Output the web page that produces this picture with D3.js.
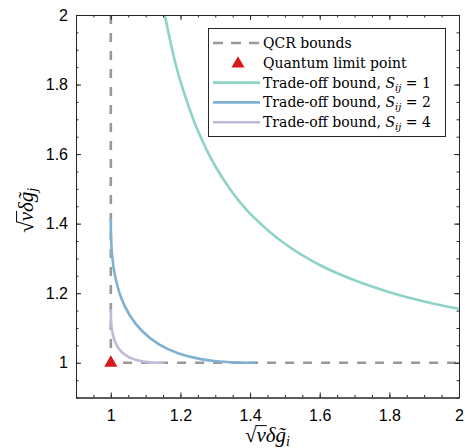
<!DOCTYPE html>
<html>
<head>
<meta charset="utf-8">
<script src="https://cdn.jsdelivr.net/npm/d3@7"></script>
<style>
  body { margin: 0; background: #fff; }
  svg { display: block; }
  .tick text { font-family: "Liberation Sans", Arial, sans-serif; font-size: 16px; fill: #000; }
  .math { font-family: "Liberation Serif", "DejaVu Serif", serif; }
  .legend-text { font-family: "DejaVu Serif", "Liberation Serif", serif; }
</style>
</head>
<body>
<svg id="chart" width="465" height="448"></svg>
<script>
// QCR bounds (dashed)
var qcrX = [1, 1, 2];
var qcrY = [2, 1, 1];

// quantum limit point
var limitX = 1, limitY = 1;

// trade-off bound S_ij = 1
var xS1 = [1.155, 1.18, 1.2, 1.25, 1.3, 1.35, 1.4, 1.5, 1.6, 1.7, 1.8, 1.9, 2.0];
var yS1 = [2.0, 1.884, 1.809, 1.667, 1.565, 1.489, 1.429, 1.342, 1.281, 1.237, 1.203, 1.176, 1.155];

// trade-off bound S_ij = 2
var xS2 = [1.0, 1.0001, 1.0004, 1.002, 1.0052, 1.0104, 1.0273, 1.0538, 1.0904, 1.1371, 1.1934, 1.2589, 1.2948, 1.3327, 1.3726, 1.3932, 1.4142];
var yS2 = [1.4142, 1.3932, 1.3726, 1.3327, 1.2948, 1.2589, 1.1934, 1.1371, 1.0904, 1.0538, 1.0273, 1.0104, 1.0052, 1.002, 1.0004, 1.0001, 1.0];

// trade-off bound S_ij = 4
var xS4 = [1.0, 1.0001, 1.0007, 1.0017, 1.0035, 1.0092, 1.0183, 1.031, 1.0477, 1.0684, 1.0931, 1.107, 1.1219, 1.1379, 1.1547];
var yS4 = [1.1547, 1.1379, 1.1219, 1.107, 1.0931, 1.0684, 1.0477, 1.031, 1.0183, 1.0092, 1.0035, 1.0017, 1.0007, 1.0001, 1.0];

var majorTicks = [1, 1.2, 1.4, 1.6, 1.8, 2];
var tickLabels = ['1', '1.2', '1.4', '1.6', '1.8', '2'];
var minorTicks = d3.range(0, 23).map(function (i) { return +(0.9 + i * 0.05).toFixed(2); });

var colors = { qcr: '#999999', s1: '#8dd3c7', s2: '#80b1d3', s4: '#bebada', point: '#d7191c' };

var dims = { left: 76, right: 459, top: 15, bottom: 397.5 };

var svg = d3.select('#chart');

var x = d3.scaleLinear().domain([0.9, 2]).range([dims.left, dims.right]);
var y = d3.scaleLinear().domain([0.9, 2]).range([dims.bottom, dims.top]);

var line = d3.line().x(function (d) { return x(d[0]); }).y(function (d) { return y(d[1]); });
var smooth = d3.line().x(function (d) { return x(d[0]); }).y(function (d) { return y(d[1]); }).curve(d3.curveCatmullRom.alpha(0.5));

function pairs(xs, ys) { return xs.map(function (v, i) { return [v, ys[i]]; }); }

// dashed QCR bounds
svg.append('path')
  .attr('d', line(pairs(qcrX, qcrY)))
  .attr('fill', 'none')
  .attr('stroke', colors.qcr)
  .attr('stroke-width', 2.6)
  .attr('stroke-dasharray', '9,9');

// trade-off curves
[[xS1, yS1, colors.s1], [xS2, yS2, colors.s2], [xS4, yS4, colors.s4]].forEach(function (c) {
  svg.append('path')
    .attr('d', smooth(pairs(c[0], c[1])))
    .attr('fill', 'none')
    .attr('stroke', c[2])
    .attr('stroke-width', 2.6);
});

// red triangle
var tri = d3.symbol().type(d3.symbolTriangle).size(75);
svg.append('path')
  .attr('d', tri())
  .attr('transform', 'translate(' + x(limitX) + ',' + (y(limitY) + 0.2) + ')')
  .attr('fill', colors.point);

// axes (ticks inside, box on)
function fmt(d) { return tickLabels[majorTicks.indexOf(d)]; }
var axisColor = '#262626';

function addAxis(axis, tr) {
  var g = svg.append('g').attr('transform', tr).call(axis);
  g.selectAll('line').attr('stroke', axisColor);
  g.select('.domain').attr('stroke', axisColor);
  return g;
}

addAxis(d3.axisBottom(x).tickValues(minorTicks).tickSizeInner(-2.5).tickSizeOuter(0).tickFormat(''), 'translate(0,' + dims.bottom + ')');
addAxis(d3.axisBottom(x).tickValues(majorTicks).tickSizeInner(-5).tickSizeOuter(0).tickPadding(12).tickFormat(fmt), 'translate(0,' + dims.bottom + ')');
addAxis(d3.axisTop(x).tickValues(minorTicks).tickSizeInner(-2.5).tickSizeOuter(0).tickFormat(''), 'translate(0,' + dims.top + ')');
addAxis(d3.axisTop(x).tickValues(majorTicks).tickSizeInner(-5).tickSizeOuter(0).tickFormat(''), 'translate(0,' + dims.top + ')');
addAxis(d3.axisLeft(y).tickValues(minorTicks).tickSizeInner(-2.5).tickSizeOuter(0).tickFormat(''), 'translate(' + dims.left + ',0)');
addAxis(d3.axisLeft(y).tickValues(majorTicks).tickSizeInner(-5).tickSizeOuter(0).tickPadding(8).tickFormat(fmt), 'translate(' + dims.left + ',0)');
addAxis(d3.axisRight(y).tickValues(minorTicks).tickSizeInner(-2.5).tickSizeOuter(0).tickFormat(''), 'translate(' + dims.right + ',0)');
addAxis(d3.axisRight(y).tickValues(majorTicks).tickSizeInner(-5).tickSizeOuter(0).tickFormat(''), 'translate(' + dims.right + ',0)');

// math label: sqrt(nu) delta g~_sub
function mathLabel(parent, sub, cx, cy, rot) {
  var g = parent.append('g').attr('transform', 'translate(' + cx + ',' + cy + ') rotate(' + rot + ')');
  var t = g.append('text').attr('class', 'math').attr('font-size', 21).attr('x', 0).attr('y', 0);
  t.append('tspan').text('\u221A');
  t.append('tspan').attr('font-style', 'italic').text('\u03BD');
  t.append('tspan').attr('font-style', 'italic').text('\u03B4');
  t.append('tspan').attr('font-style', 'italic').text('g\u0303');
  t.append('tspan').attr('font-style', 'italic').attr('font-size', 14).attr('dy', 4).text(sub);
  var bb = t.node().getBBox();
  t.attr('x', -bb.width / 2);
  var n = t.node();
  var r = n.getExtentOfChar(0), nu = n.getExtentOfChar(1);
  g.append('line')
    .attr('x1', r.x + r.width - 1).attr('x2', nu.x + nu.width + 1)
    .attr('y1', r.y + 2.6).attr('y2', r.y + 2.6)
    .attr('stroke', '#000').attr('stroke-width', 1);
}
mathLabel(svg, 'i', (dims.left + dims.right) / 2, 442, 0);
mathLabel(svg, 'j', 33, (dims.top + dims.bottom) / 2 + 4, -90);

// legend
var leg = svg.append('g');
leg.append('rect')
  .attr('x', 208.5).attr('y', 28.5).attr('width', 237).attr('height', 108)
  .attr('fill', '#fff').attr('stroke', axisColor).attr('stroke-width', 1);

var legendNames = ['QCR bounds', 'Quantum limit point', 'Trade-off bound, ', 'Trade-off bound, ', 'Trade-off bound, '];
var legendS = [null, null, '1', '2', '4'];
var legendColors = [colors.qcr, colors.point, colors.s1, colors.s2, colors.s4];

legendNames.forEach(function (name, i) {
  var ry = 43 + i * 19.8;
  if (i === 0) {
    leg.append('line').attr('x1', 213).attr('x2', 260).attr('y1', ry).attr('y2', ry)
      .attr('stroke', legendColors[i]).attr('stroke-width', 2.6).attr('stroke-dasharray', '10,8');
  } else if (i === 1) {
    leg.append('path').attr('d', tri()).attr('transform', 'translate(238,' + (ry + 1) + ')').attr('fill', legendColors[i]);
  } else {
    leg.append('line').attr('x1', 213).attr('x2', 260).attr('y1', ry).attr('y2', ry)
      .attr('stroke', legendColors[i]).attr('stroke-width', 2.6);
  }
  var t = leg.append('text').attr('class', 'legend-text').attr('font-size', 14).attr('x', 263).attr('y', ry + 5);
  t.append('tspan').text(name);
  if (legendS[i]) {
    t.append('tspan').attr('font-style', 'italic').text('S');
    t.append('tspan').attr('font-style', 'italic').attr('font-size', 10).attr('dy', 3).text('ij');
    t.append('tspan').attr('dy', -3).text(' = ' + legendS[i]);
  }
});
</script>
</body>
</html>
